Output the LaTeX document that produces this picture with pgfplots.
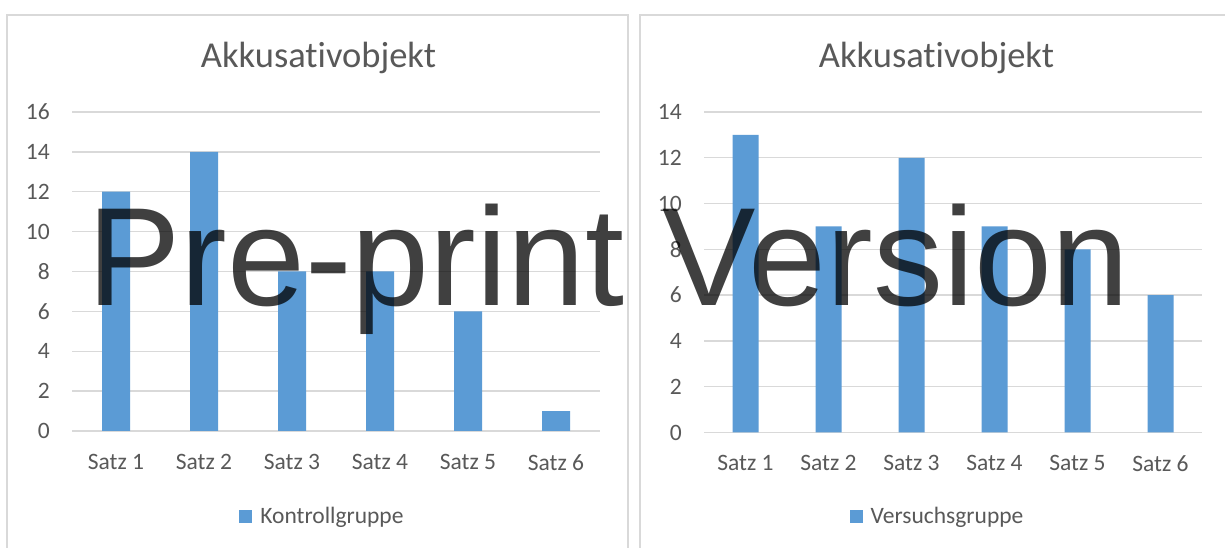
\documentclass[border=0pt]{standalone}
\usepackage{pgfplots}
\pgfplotsset{compat=1.18}
\usepackage{fontspec}
\setmainfont{Carlito}[Ligatures={NoCommon}]
\newfontfamily\wmfont{Liberation Sans}
\definecolor{barblue}{HTML}{5B9BD5}
\definecolor{txt}{HTML}{595959}
\definecolor{gridc}{HTML}{D9D9D9}
\pgfplotsset{
  mystyle/.style={
    scale only axis,
    anchor=south west,
    axis line style={draw=none},
    ymajorgrids,
    grid style={gridc, line width=1.3pt},
    major tick length=0pt,
    xmin=0.5, xmax=6.5, ymin=0,
    xtick={1,2,3,4,5,6},
    xticklabels={Satz 1,Satz 2,Satz 3,Satz 4,Satz 5,Satz 6},
    ybar,
    tick label style={font=\fontsize{23.5}{28}\selectfont, text=txt},
    /pgf/number format/assume math mode=true,
    yticklabel style={anchor=east, inner sep=0pt, xshift=-22pt},
    xticklabel style={anchor=north, inner sep=0pt, yshift=-23pt},
    legend style={draw=none, fill=none, inner sep=0pt, column sep=6pt,
      font=\fontsize{23.5}{28}\selectfont, text=txt, anchor=center},
    legend image code/.code={\fill[barblue] (0pt,-6.5pt) rectangle (13pt,6.5pt);},
  }
}
\begin{document}
\begin{tikzpicture}[x=1pt,y=1pt]
\path[use as bounding box] (0,0) rectangle (1225,548);
\fill[white] (0,0) rectangle (1225,548);
\draw[gridc, line width=1.5pt] (7,-2) -- (7,533) -- (628,533) -- (628,-2);
\draw[gridc, line width=1.5pt] (640,-2) -- (640,533) -- (1227,533);

\begin{axis}[mystyle,
  at={(72pt,117pt)}, width=528pt, height=319pt,
  ymax=16, ytick={0,2,...,16},
  legend style={at={(axis description cs:0.4744,-0.268)}}]
\addplot[fill=barblue, draw=none, bar width=28pt]
  coordinates {(1,12) (2,14) (3,8) (4,8) (5,6) (6,1)};
\addlegendentry{Kontrollgruppe}
\end{axis}

\begin{axis}[mystyle,
  at={(704pt,115.5pt)}, width=498pt, height=320.5pt,
  ymax=14, ytick={0,2,...,14},
  legend style={at={(axis description cs:0.469,-0.262)}}]
\addplot[fill=barblue, draw=none, bar width=26pt]
  coordinates {(1,13) (2,9) (3,12) (4,9) (5,8) (6,6)};
\addlegendentry{Versuchsgruppe}
\end{axis}

\node[anchor=base, inner sep=0pt, text=txt, font=\fontsize{36.5}{40}\selectfont] at (318.5,480) {Akkusativobjekt};
\node[anchor=base, inner sep=0pt, text=txt, font=\fontsize{36.5}{40}\selectfont] at (936.5,480) {Akkusativobjekt};

\node[anchor=base west, inner sep=0pt, text=black, text opacity=0.75, font=\wmfont\fontsize{140}{140}\selectfont] at (87,242) {Pre-print Version};
\end{tikzpicture}
\end{document}
